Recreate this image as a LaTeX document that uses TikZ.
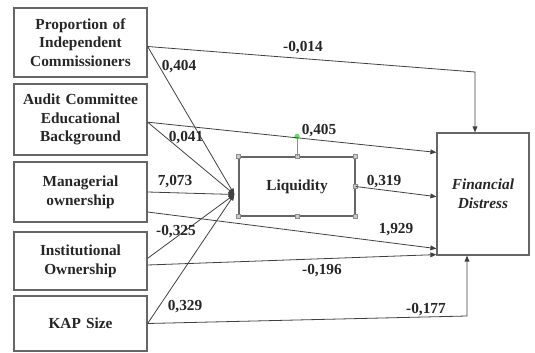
\documentclass[tikz,border=0pt]{standalone}
\usepackage{fontspec}
\setmainfont{Liberation Serif}
\usepackage{tikz}
\usetikzlibrary{positioning,calc,arrows.meta}

\begin{document}
\begin{tikzpicture}[x=0.75pt, y=-0.75pt,
    font=\bfseries\fontsize{11.5}{14}\selectfont, text=black!85,
    var/.style={draw=black!60, line width=0.9pt, rectangle, align=center, inner sep=2pt, minimum width=99.75pt, text width=92pt},
    path/.style={draw=black!75, line width=0.6pt, -{Triangle[length=4.5pt,width=3.6pt]}},
    coef/.style={inner sep=1pt},
    handle/.style={draw=black!45, fill=black!20, minimum size=3pt, inner sep=0pt}]
    \useasboundingbox (0,0) rectangle (535,353);

    % exogenous variables
    \node [var, minimum height=51.75pt] (PIC) at (80.5,42.5) {Proportion of\\Independent\\Commissioners};
    \node [var, minimum height=53.25pt] (ACE) at (80.5,119.5) {Audit Committee\\Educational\\Background};
    \node [var, minimum height=45pt] (MO) at (80.5,192) {Managerial\\ownership};
    \node [var, minimum height=43.5pt] (IO) at (80.5,261) {Institutional\\Ownership};
    \node [var, minimum height=41.25pt] (KAP) at (80.5,323.5) {KAP Size};

    \node [var, minimum width=87pt, text width=80pt, minimum height=44.25pt] (LIQ) at (297,186.5) {Liquidity};
    \node [var, minimum width=69pt, text width=62pt, minimum height=91.5pt,
           font=\bfseries\itshape\fontsize{11.5}{14}\selectfont] (FD) at (483,194) {Financial\\Distress};

    % selection handles of the Liquidity box
    \foreach \a in {north west, north, north east, east, south west, south, south east}
        \node [handle] at (LIQ.\a) {};
    \coordinate (rot) at ([yshift=15pt]LIQ.north);
    \draw [black!45] (LIQ.north) -- (rot);
    \fill [green!70!black!55] (rot) circle (2pt);

    \coordinate (LIQin) at ([xshift=-3pt,yshift=-6pt]LIQ.west);
    \coordinate (PICc) at (475,72);
    \coordinate (KAPc) at (467,316);

    % paths to Liquidity
    \draw [path] ([yshift=-3pt]PIC.east) -- (LIQin);
    \draw [path] ([yshift=-2pt]ACE.east) -- (LIQin);
    \draw [path] (MO.east) -- (LIQin);
    \draw [path] ([yshift=2pt]IO.east) -- (LIQin);
    \draw [path] (KAP.east) -- (LIQin);

    % paths to Financial Distress
    \draw [path] ([yshift=-3pt]PIC.east) -- (PICc) -- (PICc |- FD.north);
    \draw [path] ([yshift=-2pt]ACE.east) -- ([yshift=-15pt]FD.north west);
    \draw [path] (LIQ.east) -- ([yshift=-2pt]FD.west);
    \draw [path] ([yshift=-15pt]MO.east) -- ([yshift=5.25pt]FD.south west);
    \draw [path] ([yshift=-3pt]IO.east) -- ([yshift=0.75pt]FD.south west);
    \draw [path] (KAP.east) -- (KAPc) -- (KAPc |- FD.south);

    % coefficients
    \node [coef] (c1) at (303,48) {-0,014};
    \node [coef] (c2) at (179,67) {0,404};
    \node [coef] (c3) at (186,138) {0,041};
    \node [coef] (c4) at (319,131) {0,405};
    \node [coef] (c5) at (175,182) {7,073};
    \node [coef] (c6) at (384,182) {0,319};
    \node [coef] (c7) at (396,230) {1,929};
    \node [coef] (c8) at (176,232) {-0,325};
    \node [coef] (c9) at (322,271) {-0,196};
    \node [coef] (c10) at (185,307) {0,329};
    \node [coef] (c11) at (426,310) {-0,177};
\end{tikzpicture}
\end{document}
